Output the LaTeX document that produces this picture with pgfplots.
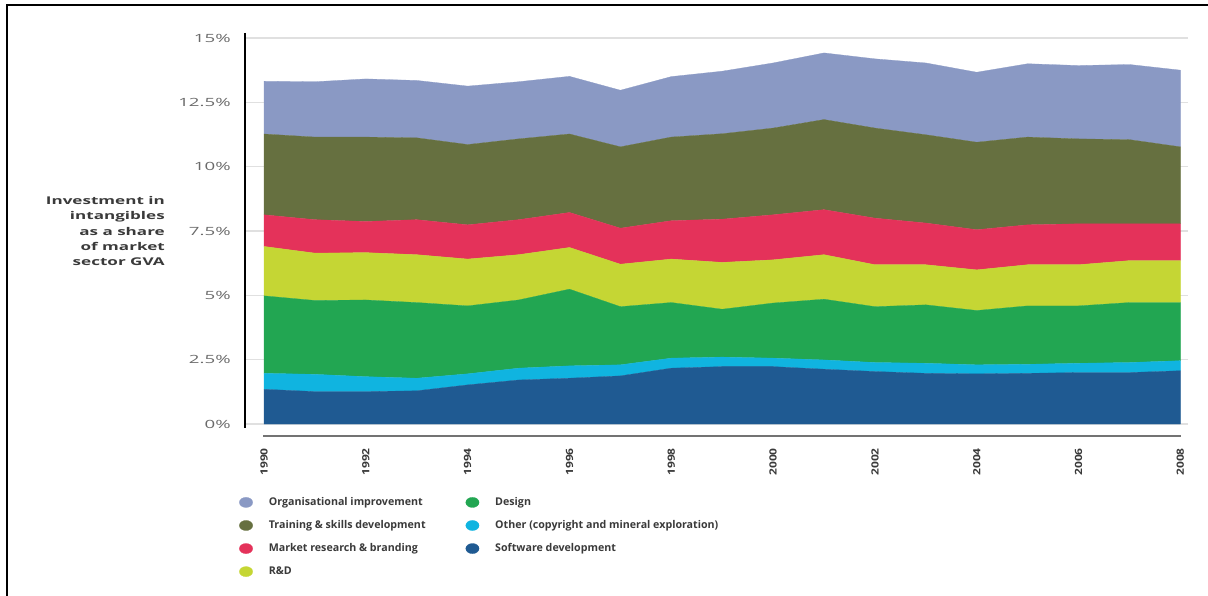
\documentclass[border=0pt]{standalone}
\usepackage{fontspec}
\setmainfont{Open Sans}
\newfontfamily\tickfont[FakeStretch=1.65]{Open Sans}
\newfontfamily\yearfont[FakeStretch=1.2]{Open Sans}
\newfontfamily\labfont[FakeStretch=1.6]{Open Sans}
\usepackage{pgfplots}
\usepackage{pgfplotstable}
\pgfplotsset{compat=1.18}

\definecolor{cOrg}{HTML}{8A99C4}
\definecolor{cTrain}{HTML}{667040}
\definecolor{cMkt}{HTML}{E4325A}
\definecolor{cRnD}{HTML}{C5D634}
\definecolor{cDesign}{HTML}{22A652}
\definecolor{cOther}{HTML}{10B4E0}
\definecolor{cSoft}{HTML}{1F5A92}
\definecolor{tickgrey}{HTML}{6A6A6A}
\definecolor{textgrey}{HTML}{3A3A3A}

% share of market sector GVA, per cent, one column per layer (bottom to top)
\pgfplotstableread{
year soft other design rnd market train org
1990 1.35 0.62 3.01 1.92 1.23 3.14 2.05
1991 1.26 0.67 2.87 1.84 1.30 3.21 2.15
1992 1.26 0.58 2.98 1.84 1.21 3.28 2.26
1993 1.29 0.49 2.94 1.86 1.36 3.18 2.23
1994 1.52 0.43 2.64 1.82 1.33 3.12 2.27
1995 1.71 0.46 2.65 1.76 1.36 3.14 2.22
1996 1.78 0.48 2.98 1.62 1.36 3.05 2.24
1997 1.87 0.43 2.26 1.65 1.40 3.16 2.20
1998 2.17 0.39 2.16 1.69 1.49 3.25 2.35
1999 2.23 0.37 1.86 1.82 1.68 3.32 2.43
2000 2.23 0.33 2.14 1.68 1.75 3.37 2.53
2001 2.13 0.36 2.36 1.73 1.75 3.50 2.59
2002 2.04 0.35 2.17 1.63 1.81 3.50 2.69
2003 1.97 0.39 2.27 1.56 1.62 3.43 2.79
2004 1.95 0.35 2.11 1.58 1.56 3.40 2.72
2005 1.97 0.35 2.27 1.60 1.55 3.41 2.85
2006 2.00 0.36 2.23 1.60 1.59 3.30 2.85
2007 2.00 0.39 2.33 1.63 1.43 3.27 2.92
2008 2.07 0.39 2.26 1.63 1.43 2.99 2.98
}\intang

\begin{document}
\begin{tikzpicture}
  % page box and the frame along the top and left edges
  \path[use as bounding box] (0pt,0pt) rectangle (906pt,-447pt);
  \draw[black, line width=1.4pt] (5.25pt,-447pt) -- (5.25pt,-3.75pt) -- (906pt,-3.75pt);

  \begin{axis}[
      at={(183.75pt,-318pt)}, anchor=south west,
      scale only axis,
      width=707.25pt, height=289.5pt,
      xmin=1989.626, xmax=2008.15,
      ymin=0, ymax=15,
      clip=false,
      stack plots=y,
      axis line style={draw=none},
      major tick length=0pt,
      ytick={0,2.5,5,7.5,10,12.5,15},
      yticklabels={0\%,2.5\%,5\%,7.5\%,10\%,12.5\%,15\%},
      xtick={1990,1992,1994,1996,1998,2000,2002,2004,2006,2008},
      xticklabels={1990,1992,1994,1996,1998,2000,2002,2004,2006,2008},
      ymajorgrids,
      grid style={draw=black!12, line width=0.8pt},
      yticklabel style={font=\tickfont\fontsize{8.5}{10}\selectfont, text=tickgrey, anchor=east, inner sep=0pt},
      yticklabel shift=10.5pt,
      xticklabel style={font=\yearfont\bfseries\fontsize{7.5}{8}\selectfont, text=textgrey, rotate=90, anchor=east, inner sep=0pt},
      xticklabel shift=18pt,
      legend columns=4,
      transpose legend,
      reverse legend,
      legend cell align=left,
      legend image code/.code={\fill[#1] (4.5pt,0pt) ellipse (5pt and 3.8pt);},
      legend style={
        at={(axis description cs:-0.0064,-0.189)}, anchor=north west,
        draw=none, fill=none, inner sep=0pt,
        font=\bfseries\fontsize{8}{9}\selectfont, text=textgrey,
        nodes={inner sep=0pt, text height=6pt, text depth=1.5pt},
        row sep=9.5pt,
        /tikz/every odd column/.append style={column sep=12pt},
        /tikz/every even column/.append style={column sep=30pt},
      },
    ]
    \addplot[fill=cSoft, draw=cSoft, line width=0.2pt] table[x=year, y=soft] {\intang} \closedcycle;
    \addlegendentry{Software development}
    \addplot[fill=cOther, draw=cOther, line width=0.2pt] table[x=year, y=other] {\intang} \closedcycle;
    \addlegendentry{Other (copyright and mineral exploration)}
    \addplot[fill=cDesign, draw=cDesign, line width=0.2pt] table[x=year, y=design] {\intang} \closedcycle;
    \addlegendentry{Design}
    \addplot[fill=cRnD, draw=cRnD, line width=0.2pt] table[x=year, y=rnd] {\intang} \closedcycle;
    \addlegendentry{R\&D}
    \addplot[fill=cMkt, draw=cMkt, line width=0.2pt] table[x=year, y=market] {\intang} \closedcycle;
    \addlegendentry{Market research \& branding}
    \addplot[fill=cTrain, draw=cTrain, line width=0.2pt] table[x=year, y=train] {\intang} \closedcycle;
    \addlegendentry{Training \& skills development}
    \addplot[fill=cOrg, draw=cOrg, line width=0.2pt] table[x=year, y=org] {\intang} \closedcycle;
    \addlegendentry{Organisational improvement}

    % vertical axis rule and the grey rule under the areas
    \draw[black, line width=1.2pt] (axis cs:1989.626,15.2) -- (axis cs:1989.626,-0.16);
    \draw[black!55, line width=1.6pt] (axis cs:1989.98,-0.45) -- (axis cs:2008.02,-0.45);

    \node[anchor=east, align=right, font=\labfont\bfseries\fontsize{8}{11.6}\selectfont, text=textgrey, inner sep=0pt]
      at (axis description cs:-0.0848,0.5)
      {Investment in\\intangibles\\as a share\\of market\\sector GVA};
  \end{axis}
\end{tikzpicture}
\end{document}
